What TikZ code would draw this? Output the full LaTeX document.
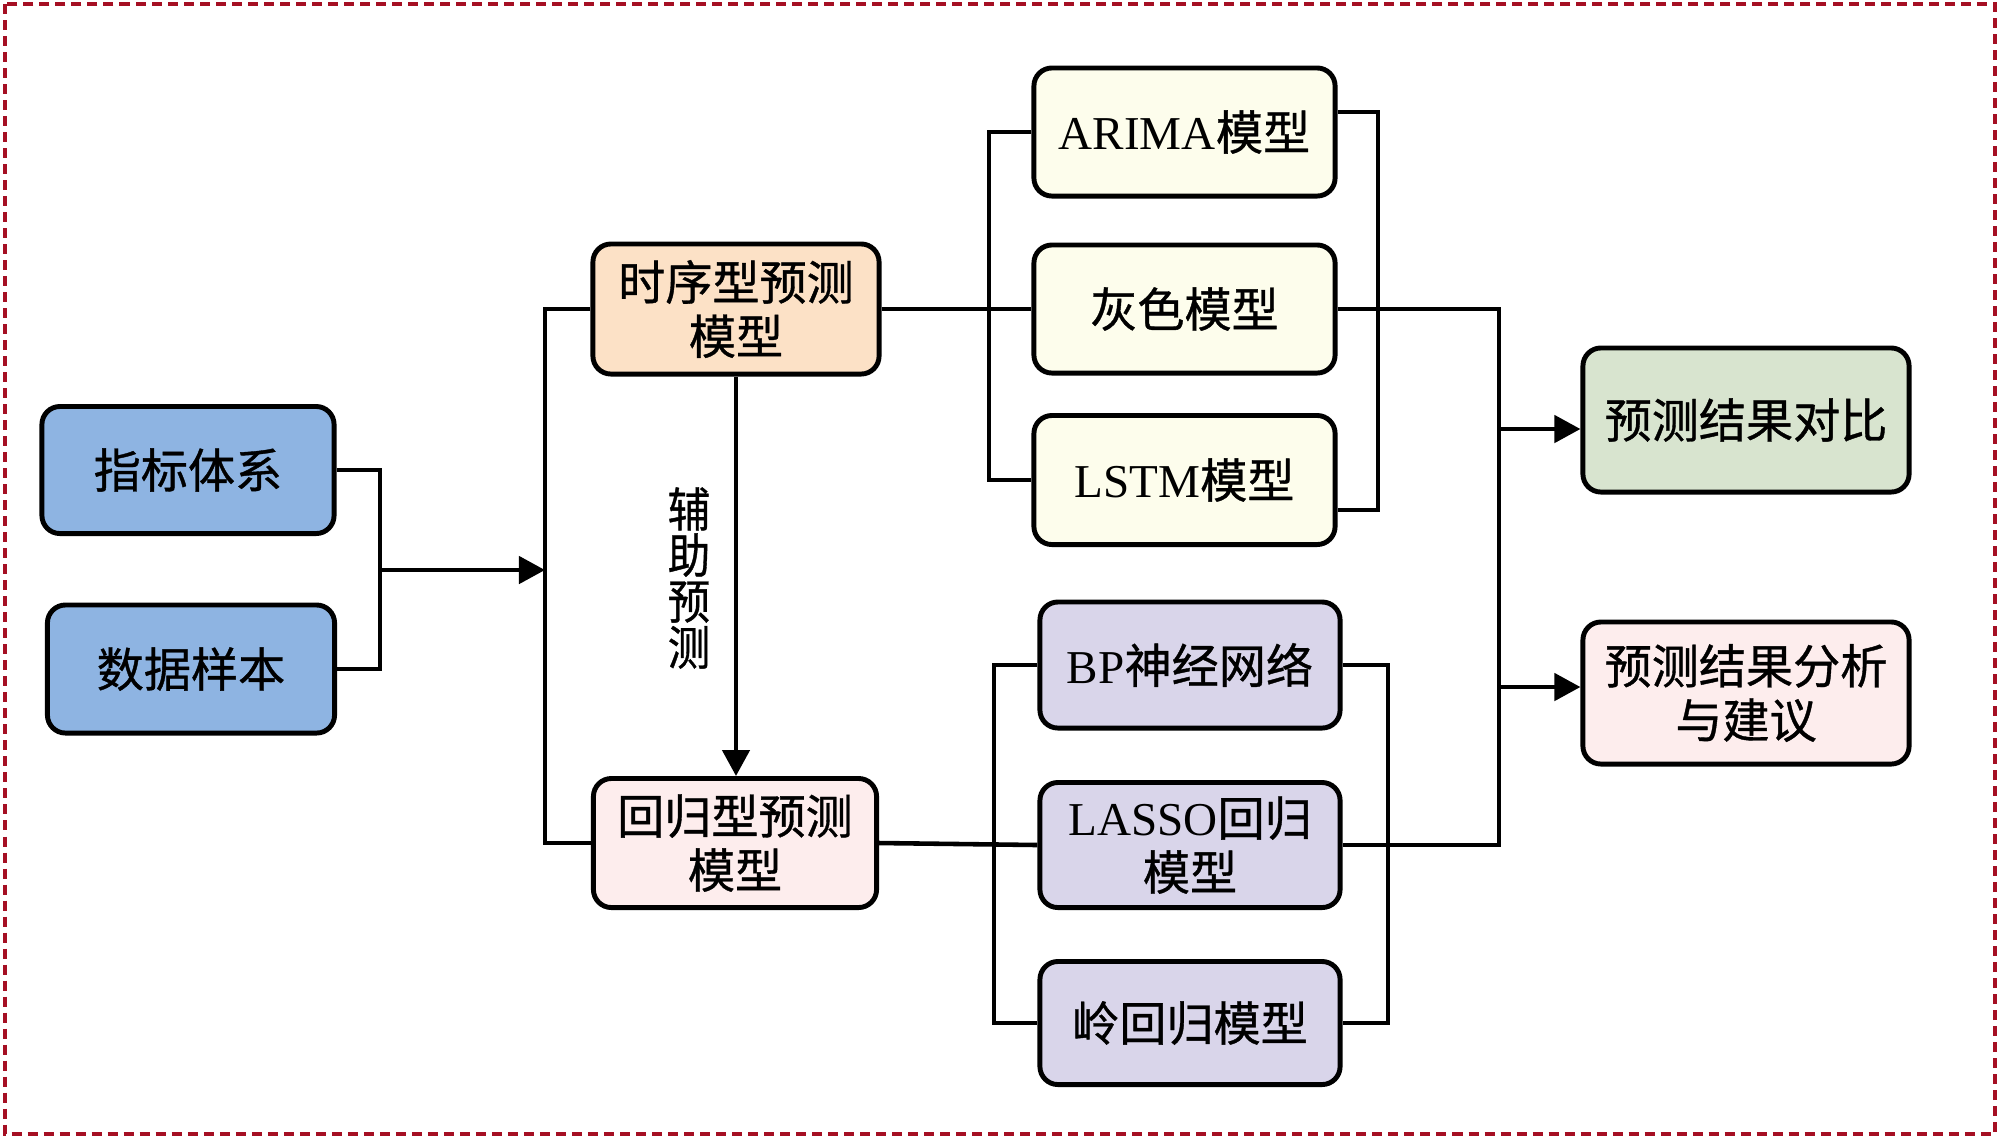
\documentclass[tikz,border=0pt]{standalone}
\usepackage{fontspec}
\setmainfont{Liberation Serif}
\newfontfamily\cjk[FakeBold=0.8]{Noto Sans CJK SC}
\usetikzlibrary{arrows.meta}
\definecolor{cblue}{RGB}{142,180,226}
\definecolor{cpeach}{RGB}{252,225,198}
\definecolor{cpink}{RGB}{253,237,237}
\definecolor{ccream}{RGB}{253,253,236}
\definecolor{clav}{RGB}{217,213,234}
\definecolor{cgreen}{RGB}{216,228,207}
\definecolor{cframe}{RGB}{165,15,35}
\tikzset{
  box/.style={draw=black, line width=1.4pt, rounded corners=0.18cm, align=center,
    inner sep=0pt, font=\fontsize{13.4}{15.4}\selectfont},
  conn/.style={draw=black, line width=1.3pt},
  arr/.style={conn, -{Triangle[length=0.26cm,width=0.27cm]}},
}
\begin{document}
\begin{tikzpicture}[x=0.01cm, y=-0.01cm]
\useasboundingbox (0,0) rectangle (2000,1138);
\draw[cframe, line width=1.1pt, dash pattern=on 1.0mm off 0.6mm] (5,4) rectangle (1995,1134);

% left inputs
\node[box, fill=cblue, minimum width=2.92cm, minimum height=1.27cm] (zb) at (188,470) {\cjk 指标体系};
\node[box, fill=cblue, minimum width=2.87cm, minimum height=1.28cm] (sj) at (191,669) {\cjk 数据样本};

% model families
\node[box, fill=cpeach, minimum width=2.86cm, minimum height=1.30cm] (sx) at (736,309) {\cjk 时序型预测\\\cjk 模型};
\node[box, fill=cpink, minimum width=2.83cm, minimum height=1.29cm] (hg) at (735,843) {\cjk 回归型预测\\\cjk 模型};

% time-series models
\node[box, fill=ccream, minimum width=3.01cm, minimum height=1.28cm] (arima) at (1184.5,132) {ARIMA{\cjk 模型}};
\node[box, fill=ccream, minimum width=3.01cm, minimum height=1.28cm] (hs) at (1184.5,309) {\cjk 灰色模型};
\node[box, fill=ccream, minimum width=3.01cm, minimum height=1.29cm] (lstm) at (1184.5,480) {LSTM{\cjk 模型}};

% regression models
\node[box, fill=clav, minimum width=3.00cm, minimum height=1.26cm] (bp) at (1190,665) {BP{\cjk 神经网络}};
\node[box, fill=clav, minimum width=3.00cm, minimum height=1.25cm] (lasso) at (1190,845) {LASSO{\cjk 回归}\\\cjk 模型};
\node[box, fill=clav, minimum width=3.00cm, minimum height=1.23cm] (ling) at (1190,1023) {\cjk 岭回归模型};

% outputs
\node[box, fill=cgreen, minimum width=3.26cm, minimum height=1.44cm] (cmp) at (1746,420) {\cjk 预测结果对比};
\node[box, fill=cpink, minimum width=3.26cm, minimum height=1.42cm] (ana) at (1746,693) {\cjk 预测结果分析\\\cjk 与建议};

% label
\node[align=center, inner sep=0pt, xscale=0.9, font=\fontsize{13.4}{13.1}\selectfont\cjk] (fz) at (689,578) {辅\\助\\预\\测};

% junctions
\coordinate (jin) at (380,570);
\coordinate (jm) at (545,570);
\coordinate (ju) at (989,309);
\coordinate (jl) at (994,843);
\coordinate (rb1) at (1378,300);
\coordinate (rb2) at (1388,840);
\coordinate (jr) at (1499,570);
\coordinate (a1) at (1499,429);
\coordinate (a2) at (1499,687);

% connectors
\draw[conn] (zb.east) -| (jin) |- (sj.east);
\draw[arr] (jin) -- (jm);
\draw[conn] (sx.west) -| (jm) |- (hg.west);
\draw[arr] (sx.south) -- (sx.south |- hg.north);

\draw[conn] (sx.east) -- (hs.west);
\draw[conn] (arima.west) -| (ju) |- (lstm.west);
\draw[conn] ([yshift=0.2cm]arima.east) -| (rb1) |- ([yshift=-0.3cm]lstm.east);

\draw[conn] (hg.east) -- (lasso.west);
\draw[conn] (bp.west) -| (jl) |- (ling.west);
\draw[conn] (bp.east) -| (rb2) |- (ling.east);

\draw[conn] (hs.east) -| (jr) |- (lasso.east);
\draw[arr] (a1) -- (a1 -| cmp.west);
\draw[arr] (a2) -- (a2 -| ana.west);
\end{tikzpicture}
\end{document}
